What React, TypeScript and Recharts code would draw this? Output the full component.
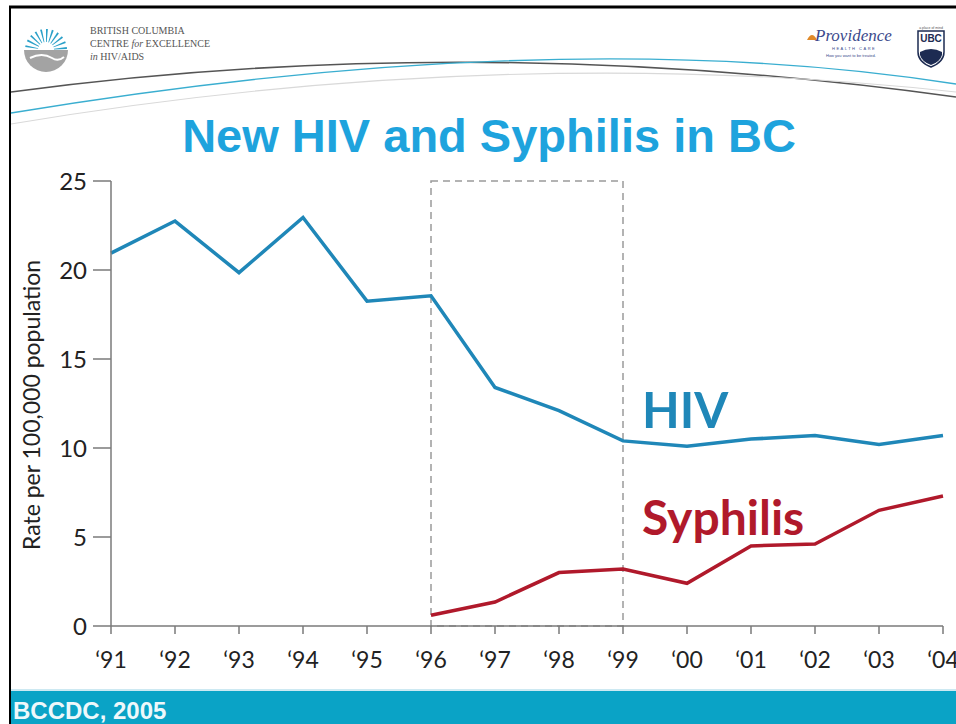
import React from "react";
import {
  LineChart,
  Line,
  XAxis,
  YAxis,
  ReferenceArea,
} from "recharts";

// rates per 100,000 population
const years = [1991, 1992, 1993, 1994, 1995, 1996, 1997, 1998, 1999, 2000, 2001, 2002, 2003, 2004];
const hivRates = [20.95, 22.75, 19.85, 22.95, 18.25, 18.55, 13.4, 12.1, 10.4, 10.1, 10.5, 10.7, 10.2, 10.7];
const syphilisRates = [null, null, null, null, null, 0.6, 1.35, 3.0, 3.2, 2.4, 4.5, 4.6, 6.5, 7.3];
const yTicks = [0, 5, 10, 15, 20, 25];
const highlight = [1996, 1999];

const HIV_BLUE = "#1f87b8";
const SYPH_RED = "#b0192b";
const AXIS_GREY = "#7a7a7a";

const rows = years.map((year, i) => ({
  year,
  hiv: hivRates[i],
  syphilis: syphilisRates[i],
}));

const shortYear = (y: number) => "\u2018" + String(y).slice(2);

function SlideDecor() {
  // logo rays for the BC Centre for Excellence mark
  const rays = Array.from({ length: 11 }, (_, i) => {
    const a = Math.PI + (i + 0.5) * (Math.PI / 11);
    const a2 = a + 0.09;
    const cx = 46;
    const cy = 50;
    return `M${cx + 8 * Math.cos(a)},${cy + 8 * Math.sin(a)} L${cx + 21 * Math.cos(a)},${cy + 21 * Math.sin(a)} L${cx + 21 * Math.cos(a2)},${cy + 21 * Math.sin(a2)} L${cx + 8 * Math.cos(a2)},${cy + 8 * Math.sin(a2)} Z`;
  });
  return (
    <svg width={956} height={724} style={{ position: "absolute", left: 0, top: 0 }}>
      {/* slide frame */}
      <line x1={9} y1={7} x2={956} y2={7} stroke="#000" strokeWidth={3} />
      <line x1={10} y1={6} x2={10} y2={724} stroke="#000" strokeWidth={2} />

      {/* header swooshes */}
      <path d="M11,92 Q470,30 956,97" fill="none" stroke="#555" strokeWidth={1.6} />
      <path d="M11,113 Q560,22 956,84" fill="none" stroke="#3aaed0" strokeWidth={1.4} />
      <path d="M11,124 Q500,42 956,92" fill="none" stroke="#d9d9d9" strokeWidth={1.2} />

      {/* BC CfE logo */}
      <circle cx={46} cy={47} r={22} fill="#fff" />
      {rays.map((d, i) => (
        <path key={i} d={d} fill="#2aa0c8" />
      ))}
      <path d="M24,50 A22,22 0 0,0 68,50 Z" fill="#a3a3a3" />
      <path d="M30,58 Q42,52 52,58 Q58,62 64,57" fill="none" stroke="#fff" strokeWidth={2} />
      <text x={90} y={34} fontFamily="Liberation Serif" fontSize={10} fill="#555">BRITISH COLUMBIA</text>
      <text x={90} y={47} fontFamily="Liberation Serif" fontSize={10} fill="#555">
        CENTRE <tspan fontStyle="italic">for</tspan> EXCELLENCE
      </text>
      <text x={90} y={60} fontFamily="Liberation Serif" fontSize={10} fill="#555">
        <tspan fontStyle="italic">in</tspan> HIV/AIDS
      </text>

      {/* Providence */}
      <path d="M807,40 Q812,30 817,40 Z" fill="#e08a2a" />
      <text x={815} y={41} fontFamily="Liberation Serif" fontStyle="italic" fontSize={17} fill="#3b4a8c">Providence</text>
      <text x={832} y={50} fontFamily="Liberation Sans" fontSize={4} fill="#3b4a8c" letterSpacing={1.5}>HEALTH CARE</text>
      <text x={826} y={57} fontFamily="Liberation Sans" fontSize={4} fill="#3b4a8c">How you want to be treated.</text>

      {/* UBC shield */}
      <text x={931} y={29} textAnchor="middle" fontFamily="Liberation Sans" fontSize={3.5} fill="#555">a place of mind</text>
      <path d="M918,31 L944,31 L944,52 Q944,62 931,67 Q918,62 918,52 Z" fill="#fff" stroke="#1d2b52" strokeWidth={1.5} />
      <text x={931} y={42} textAnchor="middle" fontFamily="Liberation Sans" fontWeight={700} fontSize={10} fill="#1d2b52">UBC</text>
      <path d="M920,52 Q931,46 942,52 L942,55 Q940,62 931,65 Q922,62 920,55 Z" fill="#1d2b52" />

      {/* title */}
      <text
        x={489}
        y={152}
        textAnchor="middle"
        fontFamily="Liberation Sans"
        fontWeight={700}
        fontSize={47}
        fill="#1ea3dd"
      >
        New HIV and Syphilis in BC
      </text>

      {/* footer */}
      <rect x={11} y={689} width={945} height={2} fill="#cde9f2" />
      <rect x={11} y={691} width={945} height={33} fill="#0aa3c6" />
      <text x={13} y={719} fontFamily="Liberation Sans" fontWeight={700} fontSize={24} fill="#eef8fb">
        BCCDC, 2005
      </text>
    </svg>
  );
}

export default function App() {
  return (
    <div style={{ position: "absolute", left: 0, top: 0, width: 956, height: 724, background: "#fff" }}>
      <SlideDecor />
      <div style={{ position: "absolute", left: 0, top: 0 }}>
        <LineChart
          width={956}
          height={724}
          data={rows}
          margin={{ top: 181, right: 13, bottom: 58, left: 51 }}
        >
          <ReferenceArea
            x1={highlight[0]}
            x2={highlight[1]}
            y1={0}
            y2={25}
            fill="none"
            stroke="#9a9a9a"
            strokeWidth={1.5}
            strokeDasharray="7 5"
            ifOverflow="visible"
          />
          <XAxis
            dataKey="year"
            type="number"
            domain={[1991, 2004]}
            ticks={years}
            interval={0}
            tickFormatter={shortYear}
            height={40}
            tickSize={8}
            tickMargin={18}
            axisLine={{ stroke: AXIS_GREY, strokeWidth: 1.5 }}
            tickLine={{ stroke: AXIS_GREY, strokeWidth: 1.5 }}
            tick={{ fill: "#222", fontSize: 23, fontFamily: "Lato" }}
          />
          <YAxis
            domain={[0, 25]}
            ticks={yTicks}
            interval={0}
            width={60}
            tickSize={18}
            tickMargin={6}
            axisLine={{ stroke: AXIS_GREY, strokeWidth: 1.5 }}
            tickLine={{ stroke: AXIS_GREY, strokeWidth: 1.5 }}
            tick={{ fill: "#222", fontSize: 24, fontFamily: "Lato" }}
          />
          <Line
            type="linear"
            dataKey="hiv"
            stroke={HIV_BLUE}
            strokeWidth={3.5}
            dot={false}
            activeDot={false}
            isAnimationActive={false}
          />
          <Line
            type="linear"
            dataKey="syphilis"
            stroke={SYPH_RED}
            strokeWidth={3.5}
            dot={false}
            activeDot={false}
            isAnimationActive={false}
          />
        </LineChart>
      </div>
      <svg width={956} height={724} style={{ position: "absolute", left: 0, top: 0, pointerEvents: "none" }}>
        <text
          transform="translate(40,405) rotate(-90)"
          textAnchor="middle"
          fontFamily="Lato"
          fontSize={23}
          fill="#222"
        >
          Rate per 100,000 population
        </text>
        <text x={642} y={428} fontFamily="Lato" fontWeight={700} fontSize={49} fill={HIV_BLUE}>
          HIV
        </text>
        <text x={642} y={535} fontFamily="Lato" fontWeight={700} fontSize={48} fill={SYPH_RED}>
          Syphilis
        </text>
      </svg>
    </div>
  );
}
